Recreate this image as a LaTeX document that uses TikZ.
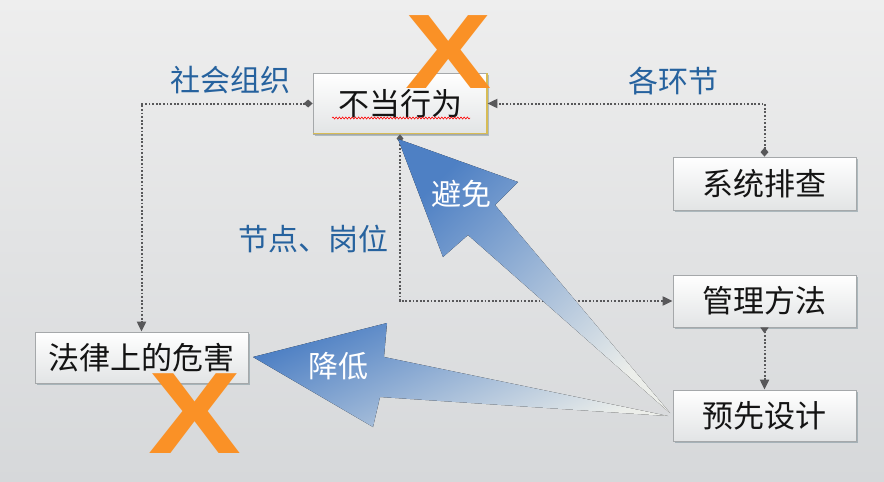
\documentclass[tikz,border=0pt]{standalone}
\usepackage{fontspec}
\setmainfont{Noto Sans CJK SC}
\newfontfamily\xfont{Liberation Sans}
\usetikzlibrary{arrows.meta,shadows,decorations.pathmorphing}
\definecolor{lblue}{RGB}{38,98,158}
\definecolor{conncol}{RGB}{88,88,90}
\definecolor{xorange}{RGB}{250,145,38}
\definecolor{goldc}{RGB}{215,188,85}
\definecolor{bgtop}{RGB}{238,238,238}
\definecolor{bgbot}{RGB}{214,216,218}
\definecolor{arrblue}{RGB}{78,128,196}
\definecolor{arrmid}{RGB}{196,212,229}
\definecolor{arrend}{RGB}{236,238,234}
\definecolor{boxline}{RGB}{165,168,170}
\definecolor{boxbot}{RGB}{226,228,229}
\definecolor{boxtext}{RGB}{20,20,20}
\definecolor{shadowc}{RGB}{90,120,130}
\begin{document}
\begin{tikzpicture}[x=1pt,y=-1pt,
  box/.style={draw=boxline, line width=0.8pt, top color=white, bottom color=boxbot,
    font=\fontsize{31}{31}\selectfont, text=boxtext, inner sep=0pt,
    drop shadow={shadow xshift=1.5pt,shadow yshift=-2pt,fill=shadowc,opacity=.4}},
  lbl/.style={text=lblue, font=\fontsize{30}{30}\selectfont, inner sep=0pt},
  wlbl/.style={text=white, font=\fontsize{30}{30}\selectfont, inner sep=0pt},
  conn/.style={draw=conncol, line width=2pt, dash pattern=on 1.8pt off 1.8pt},
  xmark/.style={text=xorange, inner sep=0pt},
  bigarrow/.style={top color=arrblue, middle color=arrmid, bottom color=arrend}
]
\useasboundingbox (0,0) rectangle (884,482);
\fill[top color=bgtop, bottom color=bgbot] (0,0) rectangle (884,482);

% boxes
\node[box, minimum width=174pt, minimum height=61pt] (bad) at (400,103.5) {不当行为};
\draw[goldc, line width=1.8pt] ([yshift=1pt]bad.south west) -- ([xshift=-0.5pt,yshift=1pt]bad.south east) -- ([xshift=-0.5pt]bad.north east);
\draw[red, line width=0.6pt, decorate, decoration={snake, amplitude=1pt, segment length=3.2pt}]
  (332,118) -- (470,118);
\node[box, minimum width=183pt, minimum height=53pt] (sys) at (764.5,183.5) {系统排查};
\node[box, minimum width=183pt, minimum height=52pt] (mgmt) at (764.5,301) {管理方法};
\node[box, minimum width=183pt, minimum height=51pt] (pre) at (764.5,415.5) {预先设计};
\node[box, minimum width=213pt, minimum height=51pt] (harm) at (141.5,357.5) {法律上的危害};

% connectors
\draw[conn, {Diamond[length=9pt,width=8pt]}-{Triangle[length=10pt,width=9pt]}] (bad.west) -| (harm.north);
\draw[conn, {Diamond[length=9pt,width=8pt]}-{Triangle[length=10pt,width=9pt]}] (sys.north) |- (bad.east);
\draw[conn, {Diamond[length=8pt,width=7pt]}-{Triangle[length=10pt,width=9pt]}] (bad.south) |- (mgmt.west);
\draw[conn, {Triangle[length=6pt,width=8pt,reversed]}-{Triangle[length=10pt,width=9pt]}] (mgmt.south) -- (pre.north);

% big arrows
\fill[bigarrow, shading angle=45] (398,139) -- (518,182) -- (495,205) -- (670,413) -- (468,235) -- (443,257) -- cycle;
\fill[bigarrow, shading angle=25] (253,357) -- (387,323) -- (384,357) -- (668,416) -- (380,397) -- (373,427) -- cycle;

% labels
\node[lbl] (l1) at (230,80) {社会组织};
\node[lbl] (l2) at (673,81) {各环节};
\node[lbl] (l3) at (313,239) {节点、岗位};
\node[wlbl] (l4) at (461,194) {避免};
\node[wlbl] (l5) at (338,366) {降低};

% X marks
\node[xmark, font=\xfont\bfseries\fontsize{106}{106}\selectfont] (x1) at (449,52) {\scalebox{1.22}[1]{X}};
\node[xmark, font=\xfont\bfseries\fontsize{116}{116}\selectfont] (x2) at (195,414) {\scalebox{1.2}[1]{X}};
\end{tikzpicture}
\end{document}
